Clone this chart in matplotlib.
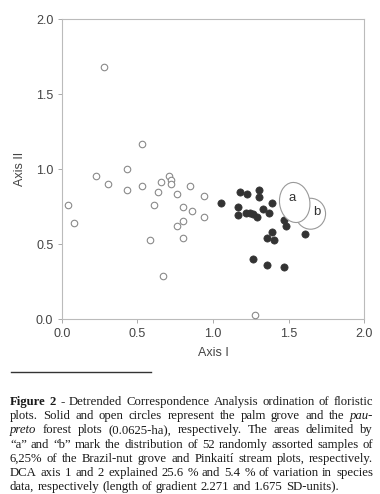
import matplotlib
matplotlib.use("Agg")
import matplotlib.pyplot as plt
from matplotlib.patches import Ellipse
from matplotlib.lines import Line2D

# ---- data ----
open_x = [0.044, 0.084, 0.280, 0.225, 0.306, 0.529, 0.432, 0.432, 0.529, 0.654,
          0.639, 0.709, 0.722, 0.722, 0.612, 0.764, 0.846, 0.943, 0.804, 0.861,
          0.943, 0.804, 0.764, 0.804, 0.584, 0.667, 1.278]
open_y = [0.764, 0.639, 1.683, 0.957, 0.903, 1.168, 1.001, 0.861, 0.888, 0.917,
          0.846, 0.957, 0.926, 0.899, 0.764, 0.832, 0.890, 0.819, 0.750, 0.721,
          0.679, 0.653, 0.622, 0.542, 0.526, 0.291, 0.027]
solid_x = [1.055, 1.167, 1.167, 1.178, 1.222, 1.304, 1.304, 1.218, 1.244, 1.267,
           1.289, 1.333, 1.372, 1.388, 1.471, 1.485, 1.388, 1.359, 1.403, 1.608,
           1.262, 1.359, 1.471]
solid_y = [0.777, 0.750, 0.695, 0.848, 0.835, 0.859, 0.817, 0.710, 0.710, 0.699,
           0.679, 0.735, 0.710, 0.777, 0.661, 0.622, 0.582, 0.542, 0.528, 0.568,
           0.402, 0.362, 0.346]
ellipse_labels = ["a", "b"]
ellipse_cx = [1.540, 1.645]
ellipse_cy = [0.778, 0.703]
ellipse_w = [0.200, 0.198]
ellipse_h = [0.268, 0.206]
ellipse_angle = [8, 0]
ticks = [0.0, 0.5, 1.0, 1.5, 2.0]
tick_labels = ["0.0", "0.5", "1.0", "1.5", "2.0"]

W, H, DPI = 380, 494, 100
fig = plt.figure(figsize=(W / DPI, H / DPI), dpi=DPI)
fig.patch.set_facecolor("white")

ax = fig.add_axes([61.7 / W, (H - 319.3) / H, 302.6 / W, 300.3 / H])
ax.set_xlim(0, 2)
ax.set_ylim(0, 2)

ax.scatter(open_x, open_y, s=22, facecolors="white", edgecolors="#8a8a8a",
           linewidths=0.8, zorder=3)
ax.scatter(solid_x, solid_y, s=27, facecolors="#333333", edgecolors="#333333",
           linewidths=0.5, zorder=3)

# ellipses: b first, then a on top
for i in [1, 0]:
    e = Ellipse((ellipse_cx[i], ellipse_cy[i]), ellipse_w[i], ellipse_h[i],
                angle=ellipse_angle[i], facecolor="white", edgecolor="#999999",
                linewidth=0.8, zorder=4 + (1 - i))
    ax.add_patch(e)
ax.text(ellipse_cx[0] - 0.02, ellipse_cy[0] + 0.03, ellipse_labels[0], ha="center",
        va="center", fontsize=9.5, family="Liberation Sans", color="#333333", zorder=6)
ax.text(ellipse_cx[1] + 0.04, ellipse_cy[1] + 0.01, ellipse_labels[1], ha="center",
        va="center", fontsize=9.5, family="Liberation Sans", color="#333333", zorder=6)

for sp in ax.spines.values():
    sp.set_color("#bbbbbb")
    sp.set_linewidth(0.8)
ax.set_xticks(ticks)
ax.set_xticklabels(tick_labels)
ax.set_yticks(ticks)
ax.set_yticklabels(tick_labels)
ax.tick_params(direction="out", length=3, width=0.7, color="#aaaaaa",
               labelsize=9, labelcolor="#444444", pad=3)
for lab in ax.get_xticklabels() + ax.get_yticklabels():
    lab.set_family("Liberation Sans")
ax.set_xlabel("Axis I", fontsize=9, family="Liberation Sans", color="#444444", labelpad=5)
ax.set_ylabel("Axis II", fontsize=9, family="Liberation Sans", color="#444444", labelpad=7)

# separator line
fig.add_artist(Line2D([11 / W, 150.7 / W], [(H - 371.7) / H] * 2, color="#333333", lw=1.0))

# caption with justified lines
caption_lines = [
    [("Figure 2 -", "bold"), ("Detrended Correspondence Analysis ordination of floristic", "normal")],
    [("plots. Solid and open circles represent the palm grove and the", "normal"), ("pau-", "italic")],
    [("preto", "italic"), ("forest plots (0.0625-ha), respectively. The areas delimited by", "normal")],
    [("\u201ca\u201d and \u201cb\u201d mark the distribution of 52 randomly assorted samples of", "normal")],
    [("6,25% of the Brazil-nut grove and Pinkaití stream plots, respectively.", "normal")],
    [("DCA axis 1 and 2 explained 25.6 % and 5.4 % of variation in species", "normal")],
    [("data, respectively (length of gradient 2.271 and 1.675 SD-units).", "normal")],
]
fig.canvas.draw()
renderer = fig.canvas.get_renderer()
x_left, x_right = 10.0, 373.0
y0, dy = 402.0, 14.2
fs = 9.2
for li, segs in enumerate(caption_lines):
    words = []
    for txt, style in segs:
        for w in txt.split(" "):
            words.append((w, style))
    arts = []
    widths = []
    for w, style in words:
        kw = dict(fontsize=fs, family="Liberation Serif", color="#1a1a1a",
                  ha="left", va="center")
        if style == "bold":
            kw["fontweight"] = "bold"
        if style == "italic":
            kw["fontstyle"] = "italic"
        t = fig.text(0, 0, w, **kw)
        bb = t.get_window_extent(renderer)
        arts.append(t)
        widths.append(bb.width)
    total = sum(widths)
    n = len(words)
    if li < len(caption_lines) - 1 and n > 1:
        gap = (x_right - x_left - total) / (n - 1)
    else:
        gap = 0.25 * fs * DPI / 72
    x = x_left
    y = H - (y0 + li * dy)
    for t, wd in zip(arts, widths):
        t.set_position((x / W, y / H))
        x += wd + gap

fig.savefig("out.png", dpi=DPI)
